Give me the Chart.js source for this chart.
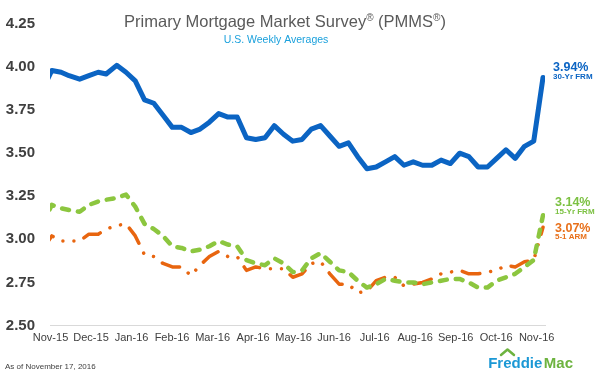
<!DOCTYPE html>
<html>
<head>
<meta charset="utf-8">
<script src="https://cdn.jsdelivr.net/npm/chart.js@4"></script>
<style>
  html, body { margin: 0; padding: 0; background: #fff; }
  #wrap { width: 600px; height: 373px; }
</style>
</head>
<body>
<div id="wrap"><canvas id="pmmsChart" width="600" height="373"></canvas></div>
<script>
// weekly survey dates (Thursdays, holiday weeks on Wednesday)
const weeks = [
  "2015-11-05", "2015-11-12", "2015-11-19", "2015-11-25", "2015-12-03", "2015-12-10", "2015-12-17", "2015-12-23", "2015-12-31",
  "2016-01-07", "2016-01-14", "2016-01-21", "2016-01-28",
  "2016-02-04", "2016-02-11", "2016-02-18", "2016-02-25",
  "2016-03-03", "2016-03-10", "2016-03-17", "2016-03-24", "2016-03-31",
  "2016-04-07", "2016-04-14", "2016-04-21", "2016-04-28",
  "2016-05-05", "2016-05-12", "2016-05-19", "2016-05-26",
  "2016-06-02", "2016-06-09", "2016-06-16", "2016-06-23", "2016-06-30",
  "2016-07-07", "2016-07-14", "2016-07-21", "2016-07-28",
  "2016-08-04", "2016-08-11", "2016-08-18", "2016-08-25",
  "2016-09-01", "2016-09-08", "2016-09-15", "2016-09-22", "2016-09-29",
  "2016-10-06", "2016-10-13", "2016-10-20", "2016-10-27",
  "2016-11-03", "2016-11-10", "2016-11-17"
];

const frm30 = [
  3.87, 3.98, 3.97, 3.95, 3.93, 3.95, 3.97, 3.96, 4.01,
  3.97, 3.92, 3.81, 3.79,
  3.72, 3.65, 3.65, 3.62,
  3.64, 3.68, 3.73, 3.71, 3.71,
  3.59, 3.58, 3.59, 3.66,
  3.61, 3.57, 3.58, 3.64,
  3.66, 3.60, 3.54, 3.56, 3.48,
  3.41, 3.42, 3.45, 3.48,
  3.43, 3.45, 3.43, 3.43,
  3.46, 3.44, 3.50, 3.48, 3.42,
  3.42, 3.47, 3.52, 3.47,
  3.54, 3.57, 3.94
];

const frm15 = [
  3.09, 3.20, 3.18, 3.17, 3.16, 3.20, 3.22, 3.23, 3.24,
  3.26, 3.19, 3.09, 3.06,
  3.02, 2.96, 2.95, 2.93,
  2.94, 2.96, 2.99, 2.97, 2.96,
  2.88, 2.86, 2.85, 2.89,
  2.86, 2.81, 2.82, 2.89,
  2.92, 2.87, 2.82, 2.81, 2.76,
  2.72, 2.74, 2.77, 2.76,
  2.75, 2.75, 2.74, 2.75,
  2.76, 2.77, 2.77, 2.75, 2.72,
  2.72, 2.76, 2.78, 2.80,
  2.84, 2.88, 3.14
];

const arm51 = [
  2.94, 3.02, 2.99, 2.99, 2.99, 3.03, 3.03, 3.06, 3.08,
  3.09, 3.02, 2.91, 2.90,
  2.86, 2.84, 2.84, 2.79,
  2.85, 2.90, 2.93, 2.90, 2.90,
  2.82, 2.84, 2.83, 2.83,
  2.83, 2.78, 2.80, 2.86,
  2.87, 2.80, 2.74, 2.74, 2.69,
  2.70, 2.76, 2.78, 2.78,
  2.73, 2.74, 2.75, 2.77,
  2.80, 2.81, 2.82, 2.80, 2.80,
  2.81, 2.82, 2.85, 2.84,
  2.87, 2.88, 3.07
];

const seriesNames = ["30-Yr FRM", "15-Yr FRM", "5-1 ARM"];
const monthLabels = ["Nov-15", "Dec-15", "Jan-16", "Feb-16", "Mar-16", "Apr-16", "May-16",
                     "Jun-16", "Jul-16", "Aug-16", "Sep-16", "Oct-16", "Nov-16"];
const yTicks = [2.50, 2.75, 3.00, 3.25, 3.50, 3.75, 4.00, 4.25];

const BLUE = "#0b64c3";
const GREEN = "#8cc63f";
const ORANGE = "#e8650f";
const FONT = '"Liberation Sans", Arial, sans-serif';

// days since 1 Nov 2015
const dayOf = d => (Date.parse(d) - Date.parse("2015-11-01")) / 864e5;
const toPoints = vals => vals.map((v, i) => ({ x: dayOf(weeks[i]), y: v }));

const xMin = 9.6, xMax = 383.5;
const tickStart = 10, tickStep = 30.6;

Chart.defaults.font.family = FONT;

const textPlugin = {
  id: "pmmsText",
  afterDraw(chart) {
    const ctx = chart.ctx;
    ctx.save();
    ctx.textAlign = "left";
    ctx.textBaseline = "alphabetic";

    // title with superscript marks
    const parts = [["Primary Mortgage Market Survey", false], ["®", true], [" (PMMS", false], ["®", true], [")", false]];
    const big = "16.5px " + FONT, small = "10px " + FONT;
    let total = 0;
    parts.forEach(p => { ctx.font = p[1] ? small : big; total += ctx.measureText(p[0]).width; });
    let x = 285 - total / 2;
    ctx.fillStyle = "#5a5a5a";
    parts.forEach(p => {
      ctx.font = p[1] ? small : big;
      ctx.fillText(p[0], x, p[1] ? 21 : 27);
      x += ctx.measureText(p[0]).width;
    });

    ctx.textAlign = "center";
    ctx.font = "10.5px " + FONT;
    ctx.fillStyle = "#1aa0dc";
    ctx.fillText("U.S. Weekly Averages", 276, 43);

    // end-of-line labels
    const ends = [
      [frm30, BLUE, 553, 70.5, 79],
      [frm15, "#7cc142", 555, 205.5, 213.5],
      [arm51, "#e8701a", 555, 232, 239]
    ];
    ctx.textAlign = "left";
    ends.forEach((e, i) => {
      ctx.fillStyle = e[1];
      ctx.font = "bold 12.5px " + FONT;
      ctx.fillText(e[0][e[0].length - 1].toFixed(2) + "%", e[2], e[3]);
      ctx.font = "bold 8px " + FONT;
      ctx.fillText(seriesNames[i], e[2], e[4]);
    });

    // footnote
    ctx.fillStyle = "#404040";
    ctx.font = "8px " + FONT;
    ctx.fillText("As of November 17, 2016", 5, 369);

    // logo
    ctx.font = "bold 15px " + FONT;
    const w1 = ctx.measureText("Freddie").width;
    const w2 = ctx.measureText("Mac").width;
    const lx = 573 - (w1 + w2 + 1.5);
    ctx.fillStyle = "#1b98d5";
    ctx.fillText("Freddie", lx, 368);
    ctx.fillStyle = "#6db33f";
    ctx.fillText("Mac", lx + w1 + 1.5, 368);
    ctx.strokeStyle = "#6db33f";
    ctx.lineWidth = 2.5;
    ctx.lineCap = "round";
    ctx.lineJoin = "round";
    ctx.beginPath();
    ctx.moveTo(501, 355);
    ctx.lineTo(507.5, 349.5);
    ctx.lineTo(514, 355);
    ctx.stroke();
    ctx.restore();
  }
};

new Chart(document.getElementById("pmmsChart"), {
  type: "line",
  data: {
    datasets: [
      {
        label: seriesNames[1],
        data: toPoints(frm15),
        borderColor: GREEN,
        borderWidth: 4.5,
        borderDash: [7, 9],
        borderCapStyle: "round",
        borderJoinStyle: "round",
        pointRadius: 0,
        tension: 0
      },
      {
        label: seriesNames[2],
        data: toPoints(arm51),
        borderColor: ORANGE,
        borderWidth: 3.5,
        borderDash: [18, 11, 0.01, 11, 0.01, 11],
        borderCapStyle: "round",
        borderJoinStyle: "round",
        pointRadius: 0,
        tension: 0
      },
      {
        label: seriesNames[0],
        data: toPoints(frm30),
        borderColor: BLUE,
        borderWidth: 5,
        borderJoinStyle: "round",
        borderCapStyle: "round",
        pointRadius: 0,
        tension: 0
      }
    ]
  },
  options: {
    responsive: false,
    devicePixelRatio: 1,
    animation: false,
    layout: { padding: { left: 0, right: 55, top: 20, bottom: 0 } },
    plugins: {
      legend: { display: false },
      tooltip: { enabled: false }
    },
    scales: {
      x: {
        type: "linear",
        min: xMin,
        max: xMax,
        afterFit: s => { s.height = 47.5; },
        afterBuildTicks: s => { s.ticks = monthLabels.map((l, i) => ({ value: tickStart + i * tickStep })); },
        grid: { display: false, drawTicks: false },
        border: { display: true, color: "#d9d9d9", width: 1 },
        ticks: {
          autoSkip: false,
          maxRotation: 0,
          padding: 6,
          color: "#404040",
          font: { size: 11 },
          callback: (v, i) => monthLabels[i]
        }
      },
      y: {
        min: 2.5,
        max: 4.25,
        afterFit: s => { s.width = 50; },
        afterBuildTicks: s => { s.ticks = yTicks.map(v => ({ value: v })); },
        grid: { display: false, drawTicks: false },
        border: { display: false },
        ticks: {
          padding: 15,
          color: "#404040",
          font: { size: 15, weight: "bold" },
          callback: v => v.toFixed(2)
        }
      }
    }
  },
  plugins: [textPlugin]
});
</script>
</body>
</html>
